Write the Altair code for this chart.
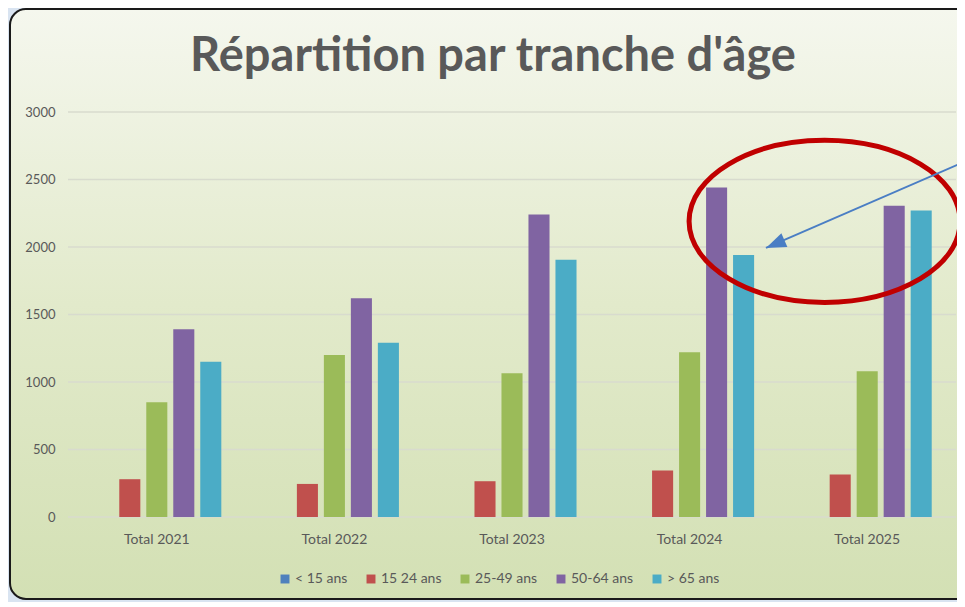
import altair as alt
import pandas as pd

# ---- data ----
years = ["Total 2021", "Total 2022", "Total 2023", "Total 2024", "Total 2025"]
series = ["< 15 ans", "15 24 ans", "25-49 ans", "50-64 ans", "> 65 ans"]
lt15 = [0, 0, 0, 0, 0]
a15_24 = [280, 245, 265, 345, 315]
a25_49 = [850, 1200, 1065, 1220, 1080]
a50_64 = [1390, 1620, 2240, 2440, 2305]
gt65 = [1150, 1290, 1905, 1940, 2270]
colors = ["#4F81BD", "#C0504D", "#9BBB59", "#8064A2", "#4BACC6"]
y_ticks = [0, 500, 1000, 1500, 2000, 2500, 3000]
title_text = ["Répartition par tranche d'âge"]

# annotation (in category units: category i spans [i, i+1])
ellipse_x = [4.26]
ellipse_y = [2190]
arrow_x = [5.11, 3.93]
arrow_y = [2667, 1993]
head_x = [3.982]
head_y = [2022]

W, H = 888, 405
FONT = "Lato"
GREY = "#595959"

rows = []
for s, vals in zip(series, [lt15, a15_24, a25_49, a50_64, gt65]):
    for yr, v in zip(years, vals):
        rows.append({"year": yr, "series": s, "value": v})
df = pd.DataFrame(rows)

yaxis = alt.Axis(values=y_ticks, title=None, grid=False, domain=False, ticks=False,
                 format="d", labelFont=FONT, labelFontSize=13, labelColor=GREY,
                 labelPadding=13, zindex=1)
yscale = alt.Scale(domain=[0, 3000], nice=False)
ax_scale = alt.Scale(domain=[0, 5], nice=False, zero=False)

frame = alt.Chart(pd.DataFrame({"k": [0]})).mark_rect(
    cornerRadius=16,
    stroke="#1a1a1a",
    strokeWidth=2,
    fill=alt.LinearGradient(
        gradient="linear", x1=0, y1=0, x2=0, y2=1,
        stops=[alt.GradientStop(offset=0, color="#f5f7ee"),
               alt.GradientStop(offset=0.5, color="#e2eacb"),
               alt.GradientStop(offset=1, color="#d3e0b4")],
    ),
).encode(
    x=alt.value(-58), x2=alt.value(W + 40),
    y=alt.value(-103), y2=alt.value(H + 82),
)

title = alt.Chart(pd.DataFrame({"t": title_text})).mark_text(
    font=FONT, fontSize=47, fontWeight="bold", color=GREY,
    align="center", baseline="alphabetic",
).encode(
    text="t:N", x=alt.value(W / 2 - 19), y=alt.value(-41),
)

grid = alt.Chart(pd.DataFrame({"value": y_ticks})).mark_rule(
    color="#d8dbce", strokeWidth=1.5
).encode(
    y=alt.Y("value:Q", scale=yscale, axis=yaxis),
    x=alt.value(0), x2=alt.value(W),
)

bars = alt.Chart(df).mark_bar().encode(
    x=alt.X("year:N", sort=years,
            scale=alt.Scale(paddingInner=0.24, paddingOuter=0.12),
            axis=alt.Axis(title=None, labelAngle=0, labelFont=FONT, labelFontSize=14,
                          labelColor=GREY, domain=False, ticks=False, grid=False,
                          labelPadding=15, zindex=1)),
    xOffset=alt.XOffset("series:N", sort=series,
                        scale=alt.Scale(paddingInner=0.22, paddingOuter=0.11)),
    y=alt.Y("value:Q", scale=yscale, axis=yaxis),
    color=alt.Color("series:N", sort=series,
                    scale=alt.Scale(domain=series, range=colors),
                    legend=alt.Legend(title=None, orient="none", direction="horizontal",
                                      legendX=210, legendY=460,
                                      symbolType="square", symbolSize=80,
                                      symbolStrokeWidth=0,
                                      labelFont=FONT, labelFontSize=14, labelColor=GREY,
                                      labelOffset=3, columnPadding=16)),
)

ellipse_path = "M-1,0 A1,0.598 0 1,0 1,0 A1,0.598 0 1,0 -1,0 Z"
ellipse = alt.Chart(pd.DataFrame({"ax": ellipse_x, "value": ellipse_y})).mark_point(
    shape=ellipse_path, size=(2 * 135.5) ** 2, filled=False,
    color="#C00000", strokeWidth=5, opacity=1,
).encode(
    x=alt.X("ax:Q", scale=ax_scale, axis=None),
    y=alt.Y("value:Q", scale=yscale, axis=yaxis),
)

arrow_df = pd.DataFrame({"ax": [arrow_x[0]], "ax2": [arrow_x[1]],
                         "value": [arrow_y[0]], "value2": [arrow_y[1]]})
arrow = alt.Chart(arrow_df).mark_rule(color="#4A7EC4", strokeWidth=2).encode(
    x=alt.X("ax:Q", scale=ax_scale, axis=None), x2="ax2:Q",
    y=alt.Y("value:Q", scale=yscale, axis=yaxis), y2="value2:Q",
)

head = alt.Chart(pd.DataFrame({"ax": head_x, "value": head_y})).mark_point(
    shape="M0,-1 L0.75,1 L-0.75,1 Z", size=400, filled=True,
    color="#4A7EC4", opacity=1, angle=246.5,
).encode(
    x=alt.X("ax:Q", scale=ax_scale, axis=None),
    y=alt.Y("value:Q", scale=yscale, axis=yaxis),
)

chart = alt.layer(frame, title, grid, bars, ellipse, arrow, head).resolve_scale(
    x="independent"
).properties(
    width=W, height=H,
    autosize=alt.AutoSizeParams(type="none"),
    padding={"left": 60, "top": 104, "right": 1, "bottom": 85},
    background="#d9e4f1",
).configure_view(stroke=None)

chart.save("out.html", embed_options={"renderer": "svg", "actions": False})
